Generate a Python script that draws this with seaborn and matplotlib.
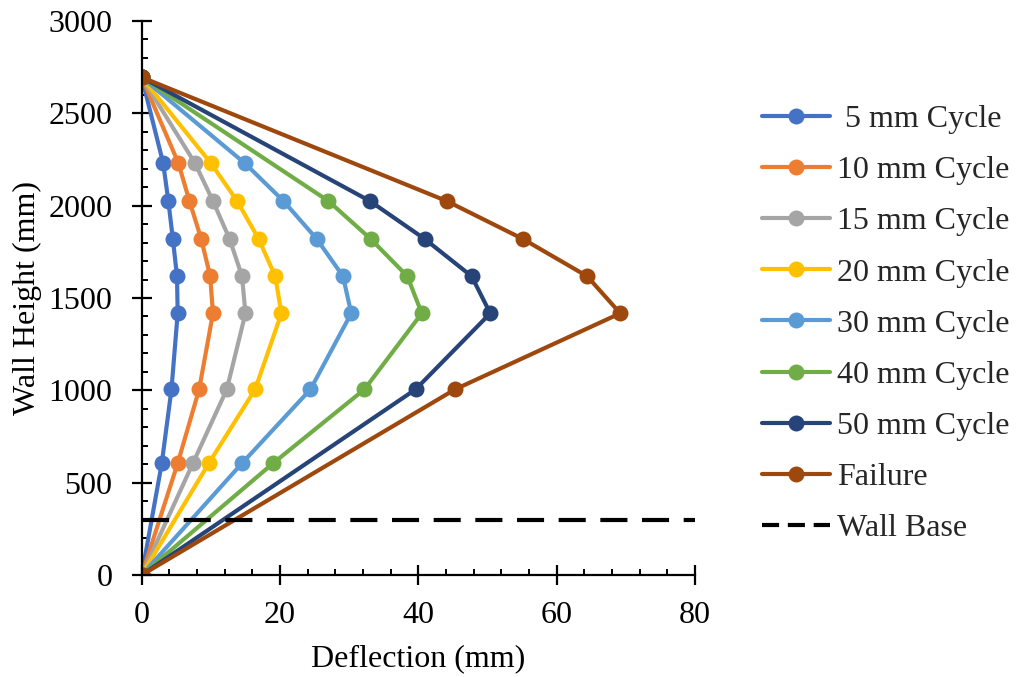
import matplotlib
matplotlib.use("Agg")
import matplotlib.pyplot as plt
import seaborn as sns
import pandas as pd
from matplotlib.ticker import MultipleLocator
from matplotlib.lines import Line2D

# ---- data ----
heights_full = [0, 605, 1005, 1417, 1618, 1820, 2025, 2230, 2695]
heights_40 = [0, 605, 1005, 1417, 1618, 1820, 2025, 2695]
heights_50 = [0, 1005, 1417, 1618, 1820, 2025, 2695]

defl_5 = [0, 2.9, 4.3, 5.2, 5.1, 4.5, 3.85, 3.1, 0]
defl_10 = [0, 5.2, 8.3, 10.3, 9.9, 8.6, 6.9, 5.3, 0]
defl_15 = [0, 7.4, 12.3, 15.0, 14.5, 12.7, 10.3, 7.7, 0]
defl_20 = [0, 9.7, 16.4, 20.2, 19.3, 16.9, 13.8, 10.0, 0]
defl_30 = [0, 14.5, 24.4, 30.3, 29.1, 25.3, 20.5, 14.9, 0]
defl_40 = [0, 19.0, 32.2, 40.5, 38.4, 33.1, 27.0, 0]
defl_50 = [0, 39.6, 50.4, 47.7, 40.9, 33.0, 0]
defl_fail = [0, 45.3, 69.2, 64.4, 55.1, 44.1, 0]

series_names = [" 5 mm Cycle", "10 mm Cycle", "15 mm Cycle", "20 mm Cycle",
                "30 mm Cycle", "40 mm Cycle", "50 mm Cycle", "Failure"]
series_defl = [defl_5, defl_10, defl_15, defl_20, defl_30, defl_40, defl_50, defl_fail]
series_heights = [heights_full] * 5 + [heights_40, heights_50, heights_50]
colors = ["#4472C4", "#ED7D31", "#A5A5A5", "#FFC000",
          "#5B9BD5", "#70AD47", "#264478", "#9E480E"]

wall_base_x = [0, 80]
wall_base_y = [300, 300]

rows = []
for name, xs, ys in zip(series_names, series_defl, series_heights):
    for i, (xv, yv) in enumerate(zip(xs, ys)):
        rows.append({"series": name, "order": i, "Deflection": xv, "Height": yv})
df = pd.DataFrame(rows)

# ---- style ----
sns.set_theme(style="white")
plt.rcParams["font.family"] = ["Liberation Serif", "DejaVu Serif"]
FS = 23
LW = 3.0
MS = 11.5

fig = plt.figure(figsize=(10.16, 6.77), dpi=100)
ax = fig.add_axes([0.1395, 0.1507, 0.5445, 0.8183])

sns.lineplot(data=df, x="Deflection", y="Height", hue="series",
             hue_order=series_names, palette=colors, sort=False,
             estimator=None, units="series", marker="o", markersize=MS,
             markeredgewidth=0, linewidth=LW, ax=ax, legend=False)

ax.plot(wall_base_x, wall_base_y, color="black", linewidth=LW,
        linestyle=(0, (6.5, 3.5)), zorder=5)

ax.set_xlim(0, 80)
ax.set_ylim(0, 3000)
ax.xaxis.set_major_locator(MultipleLocator(20))
ax.xaxis.set_minor_locator(MultipleLocator(4))
ax.yaxis.set_major_locator(MultipleLocator(500))
ax.yaxis.set_minor_locator(MultipleLocator(100))
ax.tick_params(which="major", direction="inout", length=14, width=1.6,
               color="black", labelsize=FS)
ax.tick_params(which="minor", direction="in", length=4.5, width=1.4, color="black")
ax.tick_params(axis="x", which="both", bottom=True, top=False)
ax.tick_params(axis="y", which="both", left=True, right=False)
ax.tick_params(axis="y", which="major", pad=14)
ax.tick_params(axis="x", which="major", pad=12)

for s in ["top", "right"]:
    ax.spines[s].set_visible(False)
for s in ["left", "bottom"]:
    ax.spines[s].set_color("black")
    ax.spines[s].set_linewidth(1.6)

ax.set_xlabel("Deflection (mm)", fontsize=FS, color="black", labelpad=10)
ax.set_ylabel("Wall Height (mm)", fontsize=FS, color="black", labelpad=5)
for lab in ax.get_xticklabels() + ax.get_yticklabels():
    lab.set_color("black")

handles = [Line2D([0], [0], color=c, marker="o", markersize=MS,
                  markeredgewidth=0, linewidth=LW) for c in colors]
handles.append(Line2D([0], [0], color="black", linewidth=LW,
                      linestyle=(0, (4.1, 2.1))))
labels = series_names + ["Wall Base"]
fig.legend(handles, labels, loc="upper left", bbox_to_anchor=(0.750, 0.845),
           frameon=False, fontsize=FS, handlelength=2.13, handletextpad=0.22,
           labelspacing=0.68, borderaxespad=0, borderpad=0)

fig.savefig("out.png", dpi=100)
